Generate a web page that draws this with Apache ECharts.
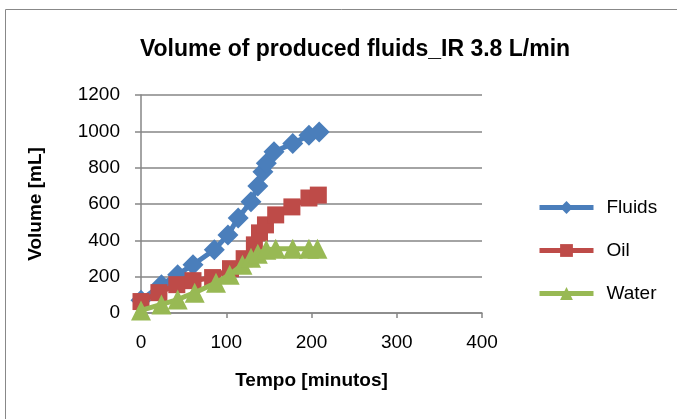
<!DOCTYPE html>
<html><head><meta charset="utf-8">
<script src="https://cdn.jsdelivr.net/npm/echarts@6/dist/echarts.min.js"></script>
<style>html,body{margin:0;padding:0;background:#fff}#c{width:677px;height:419px}</style>
</head><body><div id="c"></div>
<script>
const title = 'Volume of produced fluids_IR 3.8 L/min';
const xName = 'Tempo [minutos]';
const yName = 'Volume [mL]';
const seriesNames = ['Fluids', 'Oil', 'Water'];
const fluidsT = [0, 24, 43, 61, 86, 102, 114, 129, 137, 143, 147, 156, 178, 197, 209];
const fluidsV = [70, 156, 211, 266, 348, 430, 523, 613, 699, 777, 825, 887, 933, 978, 996];
const oilT = [0, 21, 42, 61, 84, 105, 121, 133, 139, 146, 158, 177, 197, 208];
const oilV = [63, 112, 156, 178, 195, 244, 299, 375, 441, 485, 540, 584, 633, 649];
const waterT = [0, 24, 43, 63, 88, 104, 119, 129, 137, 147, 158, 178, 197, 207];
const waterV = [14, 47, 74, 112, 167, 211, 266, 304, 326, 348, 353, 353, 353, 353];
const colors = ['#4A7EBB', '#BE4B48', '#98B954'];
const font = '"Liberation Sans Narrow", "Arial Narrow", "Liberation Sans", Arial, sans-serif';

const zip = (t, v) => t.map((x, i) => [x, v[i]]);
const chart = echarts.init(document.getElementById('c'));
chart.setOption({
  animation: false,
  graphic: [{type: 'rect', shape: {x: 5.5, y: 9.5, width: 700, height: 430}, style: {fill: 'none', stroke: '#888', lineWidth: 1}}],
  title: {text: title, left: 350, top: 33, textAlign: 'center', textStyle: {fontFamily: font, fontSize: 23, fontWeight: 'bold', color: '#000'}},
  grid: {left: 141, right: 195, top: 95, bottom: 106},
  legend: {orient: 'vertical', left: 532, top: 193, itemWidth: 54, itemHeight: 16, itemGap: 24,
    lineStyle: {width: 5},
    textStyle: {fontFamily: font, fontSize: 19, color: '#000', padding: [0, 0, 0, 8]},
    data: seriesNames},
  xAxis: {type: 'value', min: 0, max: 400, interval: 100,
    name: xName, nameLocation: 'middle', nameGap: 58,
    nameTextStyle: {fontFamily: font, fontSize: 19, fontWeight: 'bold', color: '#000'},
    axisLine: {lineStyle: {color: '#868686', width: 1.5}},
    axisTick: {show: true, length: 5, lineStyle: {color: '#868686', width: 1.5}},
    axisLabel: {fontFamily: font, fontSize: 19, color: '#000', margin: 20},
    splitLine: {show: false}},
  yAxis: {type: 'value', min: 0, max: 1200, interval: 200,
    name: yName, nameLocation: 'middle', nameGap: 96, nameRotate: 90,
    nameTextStyle: {fontFamily: font, fontSize: 19, fontWeight: 'bold', color: '#000'},
    axisLine: {show: true, lineStyle: {color: '#868686', width: 1.5}},
    axisTick: {show: true, length: 6, inside: false, lineStyle: {color: '#868686', width: 1.5}},
    axisLabel: {fontFamily: font, fontSize: 19, color: '#000', margin: 21, formatter: v => String(v)},
    splitLine: {lineStyle: {color: '#868686', width: 1.5}}},
  series: [
    {name: seriesNames[0], type: 'line', data: zip(fluidsT, fluidsV), symbol: 'diamond', symbolSize: 21, color: colors[0],
      lineStyle: {width: 5}, itemStyle: {color: colors[0]}, z: 2},
    {name: seriesNames[1], type: 'line', data: zip(oilT, oilV), symbol: 'rect', symbolSize: 17, color: colors[1],
      lineStyle: {width: 5}, itemStyle: {color: colors[1]}, z: 3},
    {name: seriesNames[2], type: 'line', data: zip(waterT, waterV), symbol: 'triangle', symbolSize: 20, color: colors[2],
      lineStyle: {width: 5}, itemStyle: {color: colors[2]}, z: 4}
  ]
});
</script></body></html>
